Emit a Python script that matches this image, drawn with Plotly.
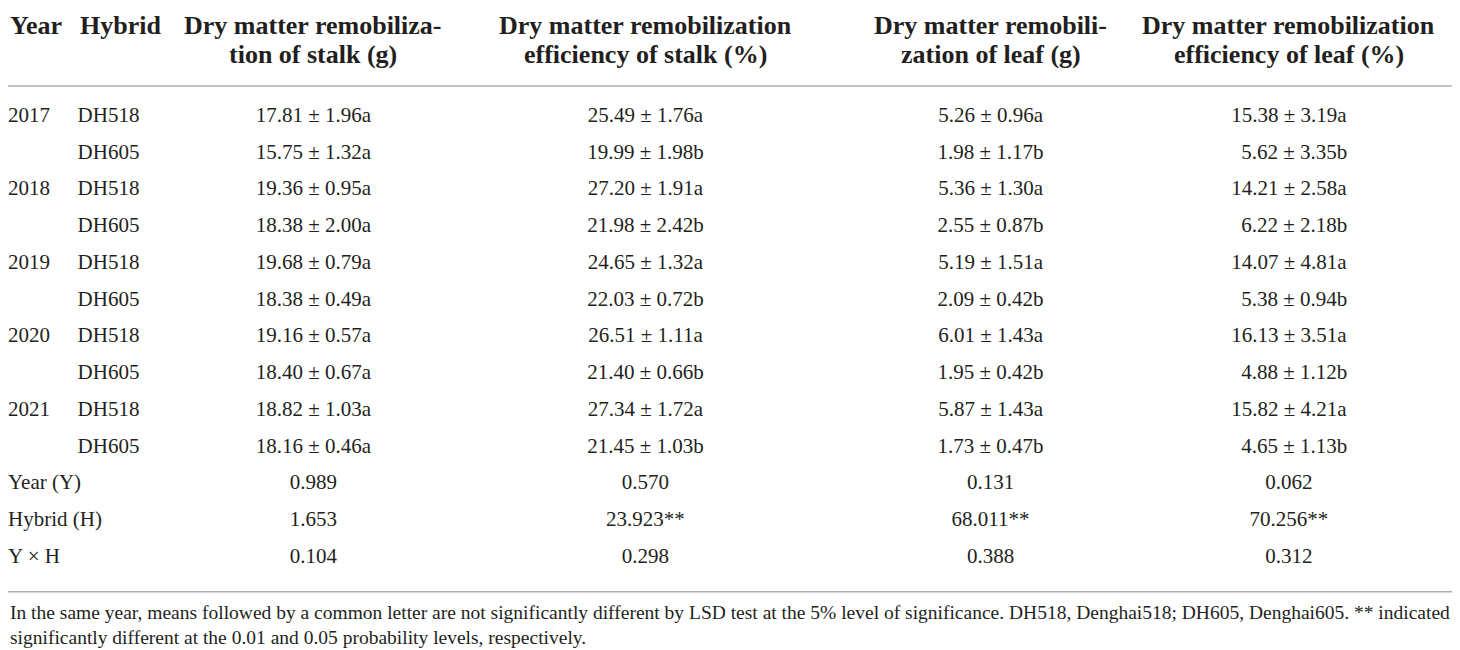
import plotly.graph_objects as go

# table values
years = ["2017", "2018", "2019", "2020", "2021"]
hybrids = ["DH518", "DH605"]

stalk_dm_mean = [17.81, 15.75, 19.36, 18.38, 19.68, 18.38, 19.16, 18.40, 18.82, 18.16]
stalk_dm_sd = [1.96, 1.32, 0.95, 2.00, 0.79, 0.49, 0.57, 0.67, 1.03, 0.46]
stalk_dm_letter = ["a", "a", "a", "a", "a", "a", "a", "a", "a", "a"]

stalk_eff_mean = [25.49, 19.99, 27.20, 21.98, 24.65, 22.03, 26.51, 21.40, 27.34, 21.45]
stalk_eff_sd = [1.76, 1.98, 1.91, 2.42, 1.32, 0.72, 1.11, 0.66, 1.72, 1.03]
stalk_eff_letter = ["a", "b", "a", "b", "a", "b", "a", "b", "a", "b"]

leaf_dm_mean = [5.26, 1.98, 5.36, 2.55, 5.19, 2.09, 6.01, 1.95, 5.87, 1.73]
leaf_dm_sd = [0.96, 1.17, 1.30, 0.87, 1.51, 0.42, 1.43, 0.42, 1.43, 0.47]
leaf_dm_letter = ["a", "b", "a", "b", "a", "b", "a", "b", "a", "b"]

leaf_eff_mean = [15.38, 5.62, 14.21, 6.22, 14.07, 5.38, 16.13, 4.88, 15.82, 4.65]
leaf_eff_sd = [3.19, 3.35, 2.58, 2.18, 4.81, 0.94, 3.51, 1.12, 4.21, 1.13]
leaf_eff_letter = ["a", "b", "a", "b", "a", "b", "a", "b", "a", "b"]

anova_labels = ["Year (Y)", "Hybrid (H)", "Y × H"]
f_year = [0.989, 0.570, 0.131, 0.062]
f_hybrid = [1.653, 23.923, 68.011, 70.256]
f_hybrid_sig = ["", "**", "**", "**"]
f_yh = [0.104, 0.298, 0.388, 0.312]

headers = [
    ["Dry matter remobiliza-", "tion of stalk (g)"],
    ["Dry matter remobilization", "efficiency of stalk (%)"],
    ["Dry matter remobili-", "zation of leaf (g)"],
    ["Dry matter remobilization", "efficiency of leaf (%)"],
]

footnote = [
    "In the same year, means followed by a common letter are not significantly different by LSD test at the 5% level of significance. "
    "DH518, Denghai518; DH605, Denghai605. ** indicated",
    "significantly different at the 0.01 and 0.05 probability levels, respectively.",
]

# layout (pixel units of the reference page)
W, H = 1460, 650
VIS_W, VIS_H = 1452, 642   # part of the figure visible past the page margin
ROW0, ROW_H = 110, 37.2
X_YEAR, X_HYB = 0, 70
COL_X = [307, 641, 988, 1288]
TXT = "#231f20"
LINE = "#b0b0b0"
SERIF = "Liberation Serif"
BODY = 21


def fmt(means, sds, letters):
    pad = any(m >= 10 for m in means)
    out = []
    for m, s, l in zip(means, sds, letters):
        t = "%.2f ± %.2f%s" % (m, s, l)
        if pad and m < 10:
            t = "\u00a0\u00a0" + t
        out.append(t)
    return out


cols = [
    fmt(stalk_dm_mean, stalk_dm_sd, stalk_dm_letter),
    fmt(stalk_eff_mean, stalk_eff_sd, stalk_eff_letter),
    fmt(leaf_dm_mean, leaf_dm_sd, leaf_dm_letter),
    fmt(leaf_eff_mean, leaf_eff_sd, leaf_eff_letter),
]
stats = [
    ["%.3f" % v for v in f_year],
    ["%.3f%s" % (v, s) for v, s in zip(f_hybrid, f_hybrid_sig)],
    ["%.3f" % v for v in f_yh],
]

n_data = len(years) * len(hybrids)
row_y = [ROW0 + ROW_H * i for i in range(n_data + len(anova_labels))]

year_col = []
hyb_col = []
for y in years:
    for j, h in enumerate(hybrids):
        year_col.append(y if j == 0 else "")
        hyb_col.append(h)

fig = go.Figure()
font = dict(family=SERIF, size=BODY, color=TXT)

# year + ANOVA labels, left aligned
fig.add_trace(go.Scatter(
    x=[X_YEAR] * len(row_y), y=row_y,
    text=year_col + anova_labels,
    mode="text", textposition="middle right", textfont=font,
    cliponaxis=False, hoverinfo="skip", showlegend=False))

fig.add_trace(go.Scatter(
    x=[X_HYB] * n_data, y=row_y[:n_data],
    text=hyb_col,
    mode="text", textposition="middle right", textfont=font,
    hoverinfo="skip", showlegend=False))

for k, cx in enumerate(COL_X):
    vals = cols[k] + [s[k] for s in stats]
    fig.add_trace(go.Scatter(
        x=[cx] * len(vals), y=row_y,
        text=vals,
        mode="text", textposition="middle center", textfont=font,
        hoverinfo="skip", showlegend=False))

# headers, one annotation per line
hfont = dict(family=SERIF, size=26, color=TXT)
HEAD_Y = [18, 47]
fig.add_annotation(x=X_YEAR, y=HEAD_Y[0], text="<b>Year</b>", xanchor="left", yanchor="middle",
                   showarrow=False, font=hfont)
fig.add_annotation(x=X_HYB, y=HEAD_Y[0], text="<b>Hybrid</b>", xanchor="left", yanchor="middle",
                   showarrow=False, font=hfont)
for cx, h in zip(COL_X, headers):
    for line, hy in zip(h, HEAD_Y):
        fig.add_annotation(x=cx, y=hy, text="<b>" + line + "</b>",
                           xanchor="center", yanchor="middle",
                           showarrow=False, font=hfont)

# rules
for yy in [79, 591]:
    fig.add_shape(type="line", xref="paper", x0=0, x1=1, y0=yy, y1=yy,
                  line=dict(color=LINE, width=1.5))

# footnote
ffont = dict(family=SERIF, size=19.5, color=TXT)
for i, t in enumerate(footnote):
    fig.add_annotation(x=0, y=612 + 25 * i, text=t, xanchor="left", yanchor="middle",
                       showarrow=False, font=ffont)

fig.update_layout(
    width=W, height=H,
    margin=dict(l=0, r=0, t=0, b=0),
    paper_bgcolor="white", plot_bgcolor="white",
    xaxis=dict(range=[0, W * W / VIS_W], visible=False, fixedrange=True),
    yaxis=dict(range=[H * H / VIS_H, 0], visible=False, fixedrange=True),
)

fig.write_html("out.html")
